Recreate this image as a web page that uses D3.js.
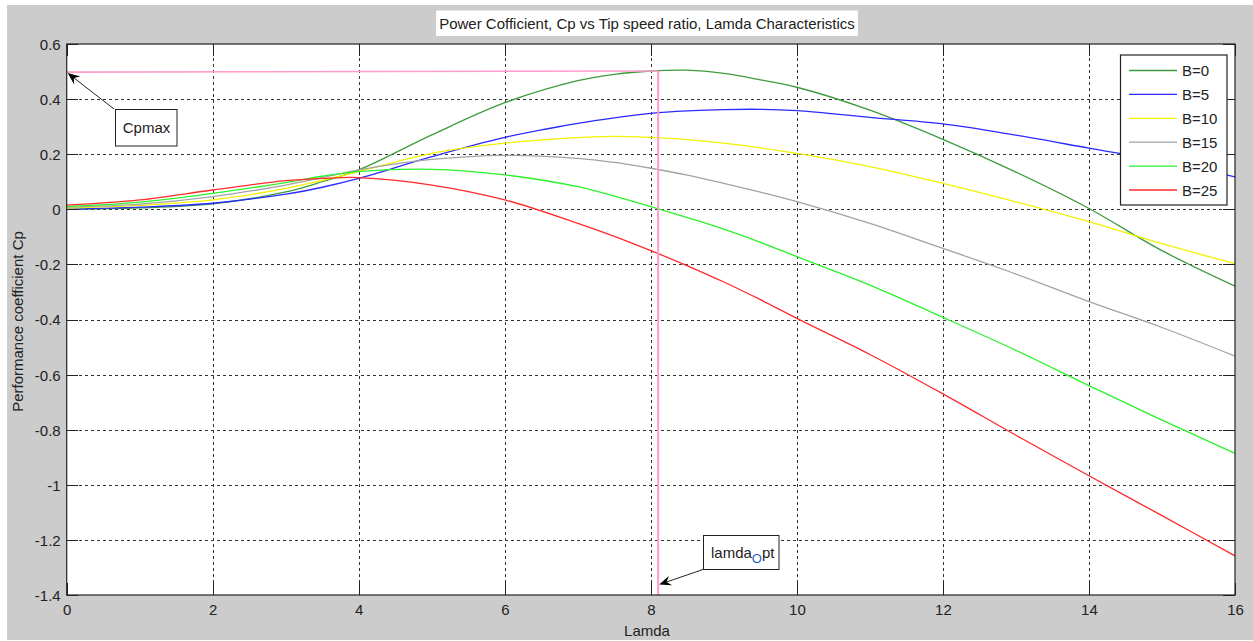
<!DOCTYPE html>
<html>
<head>
<meta charset="utf-8">
<script src="https://cdnjs.cloudflare.com/ajax/libs/d3/7.8.5/d3.min.js"></script>
<style>
  html, body { margin: 0; padding: 0; background: #ffffff; }
  svg { display: block; font-family: "Liberation Sans", Arial, sans-serif; }
</style>
</head>
<body>
<svg id="chart" width="1253" height="641"></svg>
<script>
// Tip speed ratio samples (x values shared by every pitch-angle series)
const lamda = [0, 1, 2, 3, 3.5, 4, 5, 6, 7, 7.5, 8, 8.5, 9, 9.5, 10, 11, 12, 13, 14, 15, 16];

// Power coefficient Cp for each blade pitch angle B
const cpB0  = [0.000, 0.005, 0.020, 0.063, 0.100, 0.143, 0.270, 0.387, 0.467, 0.490, 0.502, 0.505, 0.493, 0.470, 0.443, 0.360, 0.254, 0.135, 0.003, -0.150, -0.279];
const cpB5  = [0.000, 0.008, 0.022, 0.055, 0.080, 0.112, 0.191, 0.261, 0.312, 0.332, 0.348, 0.357, 0.362, 0.363, 0.358, 0.334, 0.310, 0.269, 0.222, 0.175, 0.118];
const cpB10 = [0.005, 0.014, 0.034, 0.076, 0.105, 0.137, 0.203, 0.240, 0.260, 0.265, 0.261, 0.253, 0.240, 0.223, 0.203, 0.155, 0.094, 0.027, -0.045, -0.125, -0.197];
const cpB15 = [0.008, 0.019, 0.046, 0.088, 0.115, 0.143, 0.181, 0.196, 0.185, 0.170, 0.149, 0.124, 0.094, 0.062, 0.028, -0.051, -0.142, -0.235, -0.335, -0.429, -0.533];
const cpB20 = [0.010, 0.026, 0.058, 0.097, 0.120, 0.137, 0.145, 0.125, 0.082, 0.048, 0.010, -0.030, -0.072, -0.120, -0.172, -0.275, -0.392, -0.512, -0.640, -0.765, -0.886];
const cpB25 = [0.015, 0.034, 0.070, 0.104, 0.112, 0.115, 0.088, 0.034, -0.051, -0.098, -0.150, -0.205, -0.264, -0.328, -0.396, -0.527, -0.670, -0.820, -0.967, -1.112, -1.258];

const seriesNames  = ["B=0", "B=5", "B=10", "B=15", "B=20", "B=25"];
const seriesValues = [cpB0, cpB5, cpB10, cpB15, cpB20, cpB25];
const seriesColors = ["#3c9c3c", "#2a2aff", "#f2f200", "#a3a3a3", "#2cf22c", "#ff2a2a"];

// Axis ticks
const xTicks = [0, 2, 4, 6, 8, 10, 12, 14, 16];
const yTicks = [0.6, 0.4, 0.2, 0, -0.2, -0.4, -0.6, -0.8, -1, -1.2, -1.4];

// Optimum operating point markers
const cpMaxLine    = [[0, 0.498], [8.1, 0.502]];
const lamdaOptLine = [[8.1, 0.502], [8.1, -1.4]];

// Texts
const titleText = "Power Cofficient, Cp vs Tip speed ratio, Lamda Characteristics";
const xLabel = "Lamda";
const yLabel = "Performance coefficient Cp";

(function draw() {
  const svg = d3.select("#chart");
  const W = 1253, H = 641;
  const pL = 66.7, pR = 1235, pT = 44, pB = 595;
  const x = d3.scaleLinear().domain([0, 16]).range([pL, pR]);
  const y = d3.scaleLinear().domain([-1.4, 0.6]).range([pB, pT]);
  const ink = "#222222";
  const tickLen = 11.7;

  // Figure background
  svg.append("rect").attr("x", 0).attr("y", 0).attr("width", W).attr("height", H).attr("fill", "#ffffff");
  svg.append("rect").attr("x", 7).attr("y", 5).attr("width", W - 7).attr("height", H - 6).attr("fill", "#cccccc");

  // Plot area
  svg.append("rect").attr("x", pL).attr("y", pT).attr("width", pR - pL).attr("height", pB - pT).attr("fill", "#ffffff");

  // Dotted grid
  const grid = svg.append("g").attr("class", "grid");
  grid.append("g").attr("transform", `translate(0,${pB})`)
    .call(d3.axisBottom(x).tickValues(xTicks.slice(1, -1)).tickSize(-(pB - pT)).tickFormat(""))
    .call(g => g.select(".domain").remove());
  grid.append("g").attr("transform", `translate(${pL},0)`)
    .call(d3.axisLeft(y).tickValues(yTicks.slice(1, -1)).tickSize(-(pR - pL)).tickFormat(""))
    .call(g => g.select(".domain").remove());
  grid.selectAll("line").attr("stroke", "#333333").attr("stroke-width", 1).attr("stroke-dasharray", "3,3").attr("shape-rendering", "crispEdges");

  // Curves
  const line = d3.line().x(d => x(d[0])).y(d => y(d[1])).curve(d3.curveCatmullRom.alpha(0.5));
  const curves = svg.append("g").attr("class", "curves");
  seriesValues.forEach((vals, i) => {
    curves.append("path")
      .datum(lamda.map((l, j) => [l, vals[j]]))
      .attr("d", line)
      .attr("fill", "none")
      .attr("stroke", seriesColors[i])
      .attr("stroke-width", 1.3);
  });

  // Optimum point lines
  const straight = d3.line().x(d => x(d[0])).y(d => y(d[1]));
  svg.append("path").datum(cpMaxLine).attr("d", straight).attr("fill", "none").attr("stroke", "#ff9ccc").attr("stroke-width", 1.6);
  svg.append("path").datum(lamdaOptLine).attr("d", straight).attr("fill", "none").attr("stroke", "#ff9ccc").attr("stroke-width", 2);

  // Axes box and inward ticks
  const axes = svg.append("g").attr("class", "axes");
  const xb = axes.append("g").attr("transform", `translate(0,${pB})`)
    .call(d3.axisBottom(x).tickValues(xTicks).tickSizeInner(-tickLen).tickSizeOuter(0).tickFormat(d3.format("d")));
  axes.append("g").attr("transform", `translate(0,${pT})`)
    .call(d3.axisTop(x).tickValues(xTicks).tickSizeInner(-tickLen).tickSizeOuter(0).tickFormat(""));
  const yl = axes.append("g").attr("transform", `translate(${pL},0)`)
    .call(d3.axisLeft(y).tickValues(yTicks).tickSizeInner(-tickLen).tickSizeOuter(0).tickPadding(6).tickFormat(d => String(d)));
  axes.append("g").attr("transform", `translate(${pR},0)`)
    .call(d3.axisRight(y).tickValues(yTicks).tickSizeInner(-tickLen).tickSizeOuter(0).tickFormat(""));
  axes.selectAll(".domain").remove();
  axes.selectAll("line").attr("stroke", ink).attr("stroke-width", 1).attr("shape-rendering", "crispEdges");
  axes.selectAll("text").attr("fill", ink).attr("font-size", 15).attr("font-family", "Liberation Sans, Arial, sans-serif");
  xb.selectAll("text").attr("y", 20).attr("dy", 0);
  yl.selectAll("text").attr("dy", "0.36em");
  axes.append("rect").attr("x", pL).attr("y", pT).attr("width", pR - pL).attr("height", pB - pT)
    .attr("fill", "none").attr("stroke", ink).attr("stroke-width", 1.2);

  // Axis labels
  svg.append("text").attr("x", 647).attr("y", 636).attr("text-anchor", "middle")
    .attr("font-size", 15).attr("fill", ink).text(xLabel);
  svg.append("text").attr("transform", `translate(23,${(pT + pB) / 2 + 2}) rotate(-90)`).attr("text-anchor", "middle")
    .attr("font-size", 15).attr("fill", ink).text(yLabel);

  // Title in a white box
  const titleBox = svg.append("rect").attr("fill", "#ffffff");
  const title = svg.append("text").attr("x", 647).attr("y", 29).attr("text-anchor", "middle")
    .attr("font-size", 15).attr("fill", ink).text(titleText);
  const tb = title.node().getBBox();
  titleBox.attr("x", tb.x - 3).attr("y", 10.5).attr("width", tb.width + 6).attr("height", 25.5);

  // Legend
  const legend = svg.append("g").attr("class", "legend");
  legend.append("rect").attr("x", 1120.5).attr("y", 55).attr("width", 106.5).attr("height", 150)
    .attr("fill", "#ffffff").attr("stroke", ink).attr("stroke-width", 1.2);
  seriesNames.forEach((name, i) => {
    const ry = 70.5 + i * 23.9;
    legend.append("line").attr("x1", 1129).attr("x2", 1177).attr("y1", ry).attr("y2", ry)
      .attr("stroke", seriesColors[i]).attr("stroke-width", 1.3);
    legend.append("text").attr("x", 1182).attr("y", ry + 5.5).attr("font-size", 15).attr("fill", ink).text(name);
  });

  // Annotation arrows
  function arrow(x1, y1, x2, y2) {
    const dx = x2 - x1, dy = y2 - y1, len = Math.hypot(dx, dy);
    const ux = dx / len, uy = dy / len, nx = -uy, ny = ux;
    const L = 12, Wd = 5;
    svg.append("line").attr("x1", x1).attr("y1", y1).attr("x2", x2 - ux * 6).attr("y2", y2 - uy * 6)
      .attr("stroke", ink).attr("stroke-width", 1);
    const p = [
      [x2, y2],
      [x2 - ux * L + nx * Wd, y2 - uy * L + ny * Wd],
      [x2 - ux * L * 0.65, y2 - uy * L * 0.65],
      [x2 - ux * L - nx * Wd, y2 - uy * L - ny * Wd]
    ];
    svg.append("path").attr("d", "M" + p.map(q => q.join(",")).join("L") + "Z").attr("fill", "#000000");
  }

  // Cpmax callout
  arrow(114, 109, x(0) + 1, y(0.498) + 1);
  svg.append("rect").attr("x", 115.5).attr("y", 109.5).attr("width", 61.5).attr("height", 36.5)
    .attr("fill", "#ffffff").attr("stroke", ink).attr("stroke-width", 1);
  svg.append("text").attr("x", 146.5).attr("y", 133).attr("text-anchor", "middle")
    .attr("font-size", 15).attr("fill", ink).text("Cpmax");

  // lamda_opt callout
  arrow(703, 569.5, x(8.1) + 1, 584.5);
  svg.append("rect").attr("x", 703.5).attr("y", 535.5).attr("width", 75.5).attr("height", 34)
    .attr("fill", "#ffffff").attr("stroke", ink).attr("stroke-width", 1);
  const lt = svg.append("text").attr("x", 711).attr("y", 557.5).attr("font-size", 15).attr("fill", ink);
  lt.append("tspan").text("lamda");
  lt.append("tspan").attr("font-size", 13).attr("dy", 5).attr("fill", "#2f5fc4").text("O");
  lt.append("tspan").attr("dy", -5).text("pt");
})();
</script>
</body>
</html>
